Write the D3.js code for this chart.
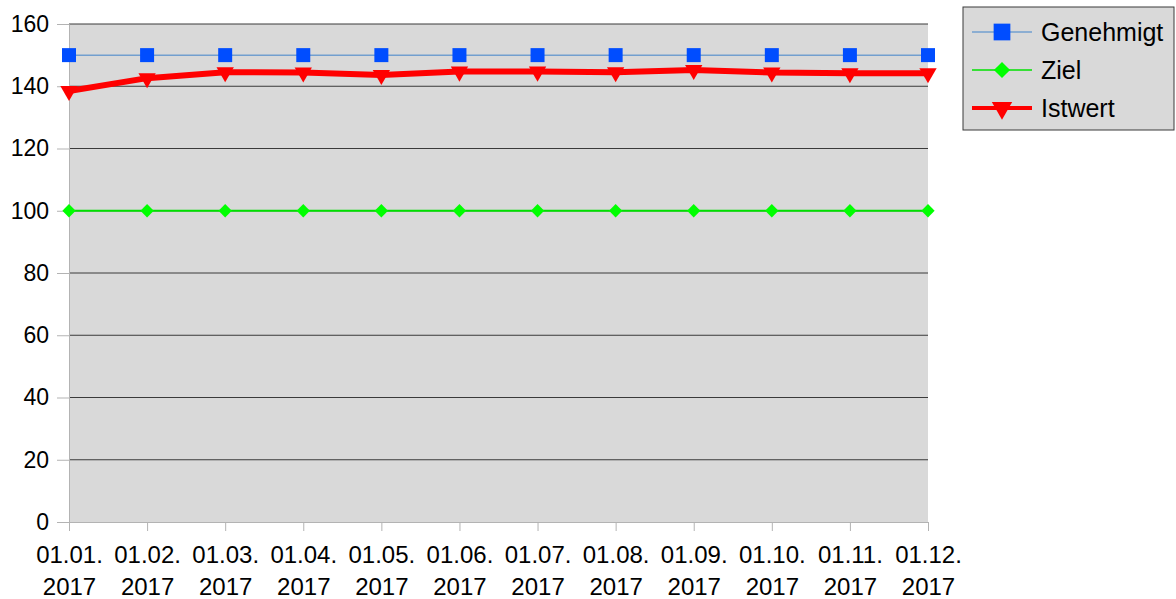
<!DOCTYPE html>
<html>
<head>
<meta charset="utf-8">
<script src="https://cdn.jsdelivr.net/npm/d3@7"></script>
<style>
  body { margin: 0; background: #fff; }
  svg { font-family: "Liberation Sans", Arial, sans-serif; }
</style>
</head>
<body>
<div id="chart"></div>
<script>
const dates = ["01.01.2017", "01.02.2017", "01.03.2017", "01.04.2017", "01.05.2017", "01.06.2017",
               "01.07.2017", "01.08.2017", "01.09.2017", "01.10.2017", "01.11.2017", "01.12.2017"];
const genehmigt = [150, 150, 150, 150, 150, 150, 150, 150, 150, 150, 150, 150];
const ziel = [100, 100, 100, 100, 100, 100, 100, 100, 100, 100, 100, 100];
const istwert = [138.5, 142.6, 144.5, 144.4, 143.6, 144.7, 144.7, 144.5, 145.2, 144.4, 144.2, 144.2];
const yTicks = [0, 20, 40, 60, 80, 100, 120, 140, 160];

const width = 1176, height = 599;
const margin = { top: 24, right: 248, bottom: 77, left: 69 };
const innerW = width - margin.left - margin.right;
const innerH = height - margin.top - margin.bottom;

const svg = d3.select("#chart").append("svg")
    .attr("width", width)
    .attr("height", height);

const g = svg.append("g")
    .attr("transform", `translate(${margin.left},${margin.top})`);

const x = d3.scalePoint().domain(dates).range([0, innerW]);
const y = d3.scaleLinear().domain([0, 160]).range([innerH, 0]);

// plot background
g.append("rect")
    .attr("width", innerW)
    .attr("height", innerH)
    .attr("fill", "#d9d9d9");

// horizontal grid
g.selectAll(".grid")
    .data(yTicks.filter(d => d > 0))
    .enter().append("line")
    .attr("x1", 0).attr("x2", innerW)
    .attr("y1", d => y(d)).attr("y2", d => y(d))
    .attr("stroke", "#3a3a3a")
    .attr("stroke-width", 1);

// y axis
const yAxis = g.append("g")
    .call(d3.axisLeft(y).tickValues(yTicks).tickSize(12).tickPadding(8));
yAxis.select(".domain").attr("stroke", "#b3b3b3");
yAxis.selectAll(".tick line").attr("stroke", "#b3b3b3");
yAxis.selectAll(".tick text").attr("font-size", 23).attr("fill", "#000")
    .attr("font-family", "Liberation Sans, Arial, sans-serif");

// x axis
const xAxis = g.append("g")
    .attr("transform", `translate(0,${innerH})`)
    .call(d3.axisBottom(x).tickSize(9).tickFormat(""));
xAxis.select(".domain").attr("stroke", "#b3b3b3");
xAxis.selectAll(".tick line").attr("stroke", "#b3b3b3");
xAxis.selectAll(".tick").each(function (d) {
    const t = d3.select(this).append("text")
        .attr("fill", "#000")
        .attr("font-size", 24)
        .attr("font-family", "Liberation Sans, Arial, sans-serif")
        .attr("text-anchor", "middle");
    t.append("tspan").attr("x", 0).attr("y", 41).text(d.slice(0, 6));
    t.append("tspan").attr("x", 0).attr("y", 73).text(d.slice(6));
});

const series = [
    { name: "Genehmigt", values: genehmigt, color: "#729fcf", marker: "#004dff", width: 1.5, legendWidth: 1.5, size: 196, legendSize: 280, rot: 0, type: d3.symbolSquare },
    { name: "Ziel", values: ziel, color: "#00e000", marker: "#00ff00", width: 2, legendWidth: 1.5, size: 88, legendSize: 130, rot: 45, type: d3.symbolSquare },
    { name: "Istwert", values: istwert, color: "#ff0000", marker: "#ff0000", width: 6, legendWidth: 4, size: 130, legendSize: 180, rot: 180, type: d3.symbolTriangle }
];

const line = d3.line().x((d, i) => x(dates[i])).y(d => y(d));

series.forEach(s => {
    g.append("path")
        .datum(s.values)
        .attr("fill", "none")
        .attr("stroke", s.color)
        .attr("stroke-width", s.width)
        .attr("stroke-linejoin", "round")
        .attr("d", line);

    g.selectAll(null)
        .data(s.values)
        .enter().append("path")
        .attr("d", d3.symbol().type(s.type).size(s.size))
        .attr("transform", (d, i) => `translate(${x(dates[i])},${y(d)}) rotate(${s.rot})`)
        .attr("fill", s.marker);
});

// legend
const legend = svg.append("g").attr("transform", "translate(963,7)");
legend.append("rect")
    .attr("width", 211).attr("height", 123)
    .attr("fill", "#d9d9d9")
    .attr("stroke", "#3a3a3a");

series.forEach((s, i) => {
    const ly = 25 + i * 38;
    legend.append("line")
        .attr("x1", 9).attr("x2", 69)
        .attr("y1", ly).attr("y2", ly)
        .attr("stroke", s.color)
        .attr("stroke-width", s.legendWidth);
    legend.append("path")
        .attr("d", d3.symbol().type(s.type).size(s.legendSize))
        .attr("transform", `translate(39,${ly}) rotate(${s.rot})`)
        .attr("fill", s.marker);
    legend.append("text")
        .attr("x", 78).attr("y", ly + 9)
        .attr("font-size", 25)
        .attr("fill", "#000")
        .text(s.name);
});
</script>
</body>
</html>
